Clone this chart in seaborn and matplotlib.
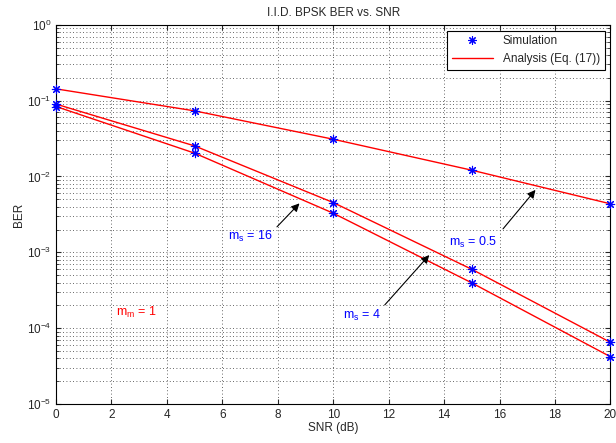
import numpy as np
import matplotlib
matplotlib.use('Agg')
import matplotlib.pyplot as plt
import seaborn as sns
from matplotlib.lines import Line2D

snr_db = [0, 5, 10, 15, 20]
ber_ms05 = [0.143, 0.0733, 0.031, 0.0121, 0.00436]
ber_ms16 = [0.090, 0.0253, 0.00453, 0.000597, 6.5e-5]
ber_ms4 = [0.0837, 0.0203, 0.00328, 0.000395, 4.2e-5]

sns.set_style('ticks')
plt.rcParams['font.family'] = ['Liberation Sans', 'DejaVu Sans']
plt.rcParams['mathtext.fontset'] = 'custom'
plt.rcParams['mathtext.rm'] = 'Liberation Sans'
plt.rcParams['mathtext.it'] = 'Liberation Sans'

fig, ax = plt.subplots(figsize=(6.16, 4.43), dpi=100)
fig.subplots_adjust(left=0.091, right=0.991, top=0.944, bottom=0.088)

ast = (8, 2, 0)
for ber in [ber_ms05, ber_ms16, ber_ms4]:
    sns.lineplot(x=snr_db, y=ber, color='red', lw=1, ax=ax, zorder=3)
    sns.scatterplot(x=snr_db, y=ber, color='blue', marker=ast, s=36,
                    linewidth=0.8, edgecolor='blue', ax=ax, zorder=4, clip_on=False)

ax.set_yscale('log')
ax.set_xlim(0, 20)
ax.set_ylim(1e-5, 1)
ax.set_xticks(np.arange(0, 21, 2))
ax.tick_params(direction='in', which='both', labelsize=8.5, top=True, right=True)
ax.grid(True, which='major', ls=(0, (1, 3)), color='#333333', lw=0.6)
ax.grid(True, which='minor', axis='y', ls=(0, (1, 3)), color='#333333', lw=0.6)
for s in ax.spines.values():
    s.set_linewidth(0.8)
    s.set_color('black')

ax.set_title('I.I.D. BPSK BER vs. SNR', fontsize=8.5)
ax.set_xlabel('SNR (dB)', fontsize=8.5, labelpad=1)
ax.set_ylabel('BER', fontsize=8.5, labelpad=1)

arrow = dict(arrowstyle='-|>', color='black', lw=0.8, mutation_scale=12)
ax.annotate('', xy=(8.85, 0.0047), xytext=(7.9, 0.00204), arrowprops=arrow)
ax.annotate('', xy=(17.36, 0.0071), xytext=(16.06, 0.00191), arrowprops=arrow)
ax.annotate('', xy=(13.53, 0.00098), xytext=(11.79, 0.00019), arrowprops=arrow)

ax.text(6.19, 0.0016, r'm$_\mathregular{s}$ = 16', color='blue', fontsize=9, va='center')
ax.text(14.18, 0.00137, r'm$_\mathregular{s}$ = 0.5', color='blue', fontsize=9, va='center')
ax.text(10.35, 0.000149, r'm$_\mathregular{s}$ = 4', color='blue', fontsize=9, va='center')
ax.text(2.18, 0.000159, r'm$_\mathregular{m}$ = 1', color='red', fontsize=9, va='center')

handles = [Line2D([], [], ls='none', marker=ast, color='blue', markersize=6, mew=0.8),
           Line2D([], [], color='red', lw=1)]
leg = ax.legend(handles, ['Simulation', 'Analysis (Eq. (17))'], loc='upper right',
                fontsize=8.5, fancybox=False, framealpha=1, edgecolor='black',
                borderaxespad=0.5, handlelength=3.5)
leg.get_frame().set_linewidth(0.8)

fig.savefig('out.png', dpi=100)
